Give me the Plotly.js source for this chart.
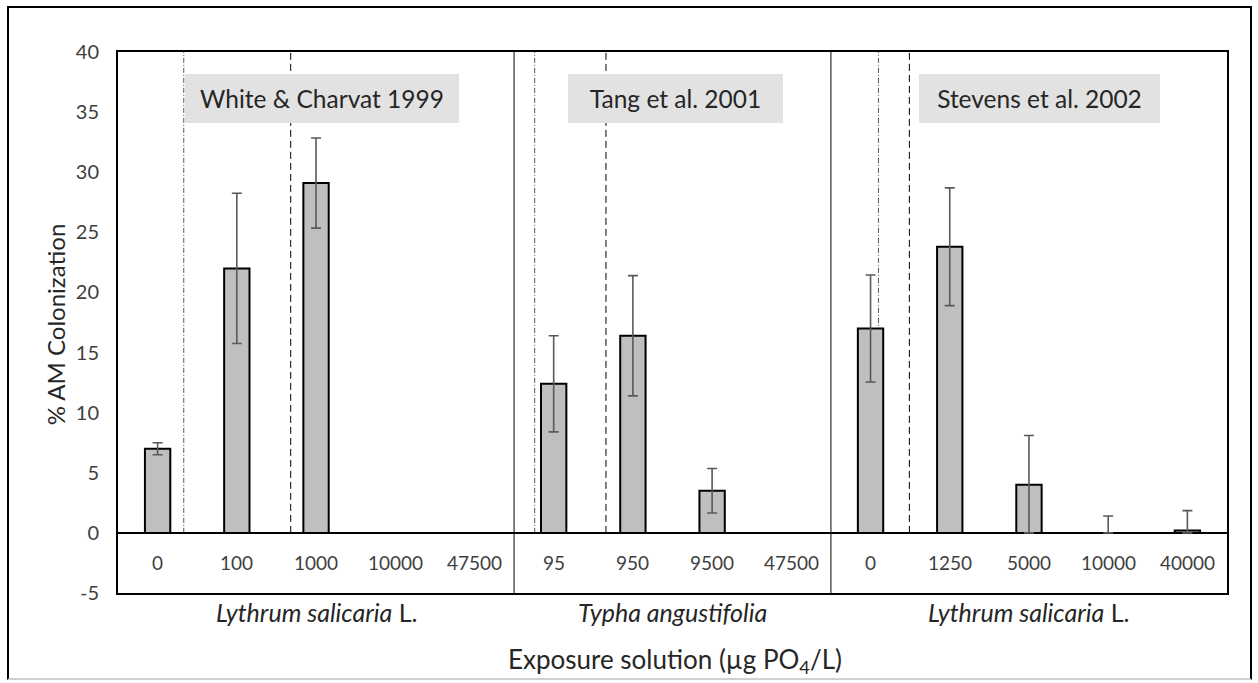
<!DOCTYPE html>
<html>
<head>
<meta charset="utf-8">
<script src="https://cdn.plot.ly/plotly-3.0.1.min.js"></script>
<style>
  html, body { margin: 0; padding: 0; background: #ffffff; }
  #wrap { position: relative; width: 1258px; height: 683px; }
  #chart { width: 1258px; height: 683px; }
  #frame { position: absolute; left: 7px; top: 6px; width: 1245px; height: 674px;
           box-sizing: border-box; border: 2px solid #000; border-bottom-color: #d0d0d0;
           pointer-events: none; }
</style>
</head>
<body>
<div id="wrap">
  <div id="chart"></div>
  <div id="frame"></div>
</div>
<script>
// ---------------- data ----------------
const studies = ['White &amp; Charvat 1999', 'Tang et al. 2001', 'Stevens et al. 2002'];
const species = ['<i>Lythrum salicaria</i> L.', '<i>Typha angustifolia</i>', '<i>Lythrum salicaria</i> L.'];
const groupSizes = [5, 4, 5];
const concLabels = ['0', '100', '1000', '10000', '47500',
                    '95', '950', '9500', '47500',
                    '0', '1250', '5000', '10000', '40000'];
const colonization = [7.0, 22.0, 29.1, null, null,
                      12.4, 16.4, 3.5, null,
                      17.0, 23.8, 4.0, 0, 0.2];
const colonizationErr = [0.5, 6.25, 3.75, null, null,
                         4.0, 5.0, 1.85, null,
                         4.45, 4.9, 4.1, 1.4, 1.65];
const yTickVals = [-5, 0, 5, 10, 15, 20, 25, 30, 35, 40];
const yTickText = ['-5', '0', '5', '10', '15', '20', '25', '30', '35', '40'];
// reference lines (category-axis position) and their style kind
const refLineX = [0.33, 1.68, 4.76, 5.66, 9.10, 9.49];
const refLineKind = ['dashdot', 'dash', 'dashdot', 'dash', 'dashdot', 'dash'];

// ---------------- build ----------------
const FONT = 'Lato, "Open Sans", sans-serif';
const xIdx = concLabels.map((_, i) => i);
const errPlus = colonizationErr.map(e => e == null ? null : e);
const errMinus = colonizationErr.map((e, i) => e == null ? null : Math.min(e, colonization[i]));

const trace = {
  type: 'bar',
  x: xIdx,
  y: colonization,
  width: 0.32,
  marker: { color: '#bfbfbf', line: { color: '#000000', width: 2 } },
  error_y: { type: 'data', symmetric: false, array: errPlus, arrayminus: errMinus,
             color: '#595959', thickness: 1.6, width: 5 },
  hoverinfo: 'x+y'
};

const shapes = [];
// panel dividers
let acc = 0;
groupSizes.slice(0, -1).forEach(n => {
  acc += n;
  shapes.push({ type: 'line', xref: 'x', yref: 'y', x0: acc - 0.5, x1: acc - 0.5, y0: -5, y1: 40,
                line: { color: '#000', width: 1 } });
});
// reference lines
refLineX.forEach((x, i) => {
  const dashdot = refLineKind[i] === 'dashdot';
  shapes.push({ type: 'line', xref: 'x', yref: 'y', x0: x, x1: x, y0: 0, y1: 40, layer: 'below',
                line: { color: dashdot ? '#555' : '#000', width: 1,
                        dash: dashdot ? '5px,2px,1px,2px' : '7px,4px' } });
});

const annotations = [];
// concentration labels inside the lower band
concLabels.forEach((t, i) => {
  annotations.push({ xref: 'x', yref: 'y', x: i, y: -2.5, text: t, showarrow: false,
                     font: { family: FONT, size: 19, color: '#404040' } });
});
// species labels under each panel
let start = 0;
groupSizes.forEach((n, g) => {
  const center = start + (n - 1) / 2;
  annotations.push({ xref: 'x', yref: 'paper', x: center, y: -0.036, yanchor: 'middle',
                     text: species[g], showarrow: false,
                     font: { family: FONT, size: 25, color: '#262626' } });
  start += n;
});
// study boxes
const boxX = [0.184, 0.5027, 0.8309];
const boxW = [274, 215, 241];
studies.forEach((s, g) => {
  annotations.push({ xref: 'paper', yref: 'paper', x: boxX[g], y: 0.914, xanchor: 'center', yanchor: 'middle',
                     text: s, showarrow: false, bgcolor: '#e2e2e2', borderpad: 0, borderwidth: 0,
                     width: boxW[g], height: 49,
                     font: { family: FONT, size: 24.5, color: '#262626' } });
});
// axis titles
annotations.push({ xref: 'paper', yref: 'paper', x: 0.5027, y: -0.124, yanchor: 'middle',
                   text: 'Exposure solution (µg PO<sub>4</sub>/L)', showarrow: false,
                   font: { family: FONT, size: 26, color: '#262626' } });
annotations.push({ xref: 'paper', yref: 'paper', x: -0.0568, y: 0.495, xanchor: 'center', yanchor: 'middle',
                   textangle: -90, text: '% AM Colonization', showarrow: false,
                   font: { family: FONT, size: 24, color: '#262626' } });

const layout = {
  width: 1258, height: 683,
  margin: { l: 118, r: 31, t: 52, b: 90 },
  paper_bgcolor: '#ffffff', plot_bgcolor: '#ffffff',
  showlegend: false,
  font: { family: FONT },
  xaxis: { range: [-0.5, 13.5], showgrid: false, zeroline: false, showline: true, mirror: true,
           linecolor: '#000', linewidth: 2, showticklabels: false, ticks: '', fixedrange: true },
  yaxis: { range: [-5, 40], tickmode: 'array', tickvals: yTickVals, ticktext: yTickText, showgrid: false,
           zeroline: true, zerolinecolor: '#000', zerolinewidth: 2,
           showline: true, mirror: true, linecolor: '#000', linewidth: 2,
           ticks: 'outside', ticklen: 13, tickcolor: 'rgba(0,0,0,0)',
           tickfont: { family: FONT, size: 20, color: '#404040' }, fixedrange: true },
  shapes: shapes,
  annotations: annotations
};

Plotly.newPlot('chart', [trace], layout, { displayModeBar: false, staticPlot: true });
</script>
</body>
</html>
